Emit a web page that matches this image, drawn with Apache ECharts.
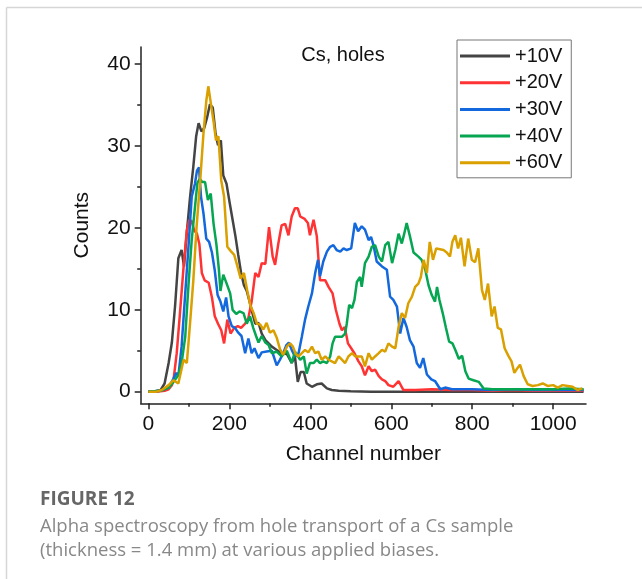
<!DOCTYPE html>
<html>
<head>
<meta charset="utf-8">
<script src="https://cdn.jsdelivr.net/npm/echarts@6/dist/echarts.min.js"></script>
<style>
html,body{margin:0;padding:0;background:#fff;}
#c{width:642px;height:579px;}
</style>
</head>
<body>
<div id="c"></div>
<script>
// ---- data ----
const seriesNames = ['+10V', '+20V', '+30V', '+40V', '+60V'];
const xTicks = [0, 200, 400, 600, 800, 1000];
const xMinorTicks = [100, 300, 500, 700, 900];
const yTicks = [0, 10, 20, 30, 40];
const yMinorTicks = [5, 15, 25, 35];

const ch10 = [0,10,20,30,40,50,58,66,74,82,88,95,103,111,118,124,131,138,145,152,159,166,172,179,185,193,200,208,215,222,229,236,243,250,257,264,272,280,289,297,305,317,329,342,354,362,369,376,384,391,404,416,428,441,453,470,500,550,600,700,800,900,1000,1075];
const v10  = [0,0,0.1,0.2,1.0,3.5,6,10.5,16.3,17.3,15.3,19.5,23.8,27.5,31.2,32.8,31.8,32.2,33.5,35.1,34.7,31.5,30.1,30.7,26.4,25.4,23.3,21.0,19.0,16.7,14.5,13.0,12.3,11.0,9.6,8.3,8.4,7.1,6.3,5.9,5.5,5.1,4.7,4.6,3.5,4.3,1.2,2.4,2.4,1.0,0.6,0.9,1.0,0.4,0.2,0.1,0.05,0,0,0,0,0,0,0];

const ch20 = [0,20,40,50,58,62,70,78,87,95,101,107,113,120,126,132,139,149,157,164,172,180,187,195,203,212,221,229,239,247,255,264,272,280,289,298,307,313,321,329,338,346,354,362,369,375,386,394,399,408,416,424,437,445,455,463,472,478,485,493,501,510,519,527,535,544,552,560,569,577,585,593,605,618,630,660,700,750,800,850,900,950,1000,1075];
const v20  = [0,0,0.1,0.3,0.8,1.4,4.7,9.6,15.3,19.7,21.0,20.8,19.7,19.3,18.0,14.5,13.6,13.3,11.5,9.2,8.3,7.5,5.9,8.8,7.1,7.8,8.0,7.8,8.3,9.0,11.0,14.5,14.0,15.7,15.6,20.1,16.5,15.5,18.1,20.3,20.5,19.1,21.4,22.4,22.4,21.4,21.1,20.6,19.1,21.0,19.0,13.6,13.6,12.8,12.0,10.0,8.3,7.5,7.9,5.9,5.3,4.6,3.7,3.1,2.0,3.1,2.5,2.7,1.9,1.5,1.3,0.8,0.6,1.3,0.2,0.2,0.3,0.2,0.2,0.1,0.2,0.1,0.1,0.1];

const ch30 = [0,30,50,62,69,74,82,91,99,107,115,120,125,130,136,143,150,157,164,171,178,185,192,198,206,214,222,230,239,247,255,262,272,280,292,305,317,325,333,341,347,354,362,371,379,387,395,404,412,419,424,432,441,449,457,465,474,482,490,501,510,518,527,535,544,550,556,564,577,589,597,605,614,622,630,638,646,655,663,671,679,688,699,708,721,733,750,800,850,900,950,1000,1075];
const v30  = [0,0.1,0.5,1.6,2.3,1.9,5.5,12.0,17.7,23.8,25.4,27.0,27.4,23.8,21.8,18.7,18.3,17.0,14.8,11.8,11.0,9.8,11.5,9.2,8.0,7.8,7.2,6.8,4.7,6.5,4.7,5.3,4.1,4.8,4.9,5.0,3.2,3.9,4.7,5.7,6.0,5.1,4.3,4.7,6.7,8.8,10.4,12.0,14.5,16.1,14.1,15.9,17.1,17.7,17.9,17.3,17.1,17.5,17.3,17.5,20.6,19.6,20.2,19.8,18.5,18.9,17.9,15.9,15.3,14.9,11.6,11.2,10.4,7.1,9.0,7.9,6.3,5.5,3.5,2.9,4.1,2.1,1.5,1.3,0.3,0.5,0.3,0.3,0.2,0.3,0.2,0.2,0.2];

const ch40 = [0,30,50,62,74,82,91,99,107,115,121,127,133,140,147,154,161,168,174,178,185,194,202,208,217,225,235,243,251,259,266,272,280,289,297,305,317,329,342,354,362,375,384,391,399,408,416,424,432,441,449,455,461,470,478,486,490,496,503,509,515,523,527,535,544,552,560,569,577,585,593,602,610,618,626,632,638,646,655,667,675,684,692,700,708,713,719,727,735,743,751,759,767,775,783,791,803,816,828,850,900,950,1000,1040,1075];
const v40  = [0,0.1,0.5,1.2,2.0,3.5,6.7,13.0,18.5,22.5,25.5,26.0,25.6,25.6,23.4,24.2,20.5,18.0,15.0,12.3,14.3,13.1,12.0,10.0,9.5,9.8,9.6,8.3,9.2,7.8,6.8,6.0,6.8,6.0,5.7,4.7,4.9,4.3,5.0,3.5,4.9,3.9,4.3,2.2,3.5,3.5,3.9,3.5,3.7,3.5,4.3,5.9,6.7,6.7,6.7,7.1,8.3,10.6,10.2,11.2,13.4,14.0,12.8,15.7,16.5,17.7,17.9,16.5,15.9,17.9,18.3,15.7,17.3,19.3,18.1,19.3,20.6,19.0,17.0,16.5,16.1,14.9,13.0,11.8,11.0,12.8,11.2,9.6,7.8,6.1,5.9,5.0,4.0,4.4,2.5,1.6,1.4,1.2,0.4,0.3,0.3,0.3,0.3,0.4,0.3];

const ch60 = [0,20,33,50,62,74,87,95,103,111,119,128,136,143,148,154,161,167,173,180,187,195,203,212,220,228,236,244,252,260,268,276,284,292,300,309,317,325,333,342,350,357,364,371,379,387,395,404,412,420,428,437,445,453,461,470,478,486,494,503,511,519,527,535,544,552,560,569,577,585,593,602,610,618,626,634,642,651,659,667,673,680,688,695,703,711,720,729,737,745,751,758,765,772,781,790,799,807,815,824,831,839,848,855,863,871,880,889,897,904,912,918,927,937,949,962,974,986,1000,1011,1023,1036,1048,1060,1072];
const v60  = [0,0,0.2,0.8,1.4,1.0,3.9,3.5,8.4,13.6,20.1,25.8,31.5,35.5,37.3,35.3,33.0,30.7,31.2,25.8,23.8,17.7,17.2,16.7,15.3,13.8,14.5,12.4,10.5,9.6,8.3,8.2,7.6,8.4,7.2,7.5,6.6,5.2,4.5,5.5,5.9,5.5,4.6,4.3,4.7,5.1,4.8,5.5,4.7,4.9,3.9,4.3,3.9,3.7,3.5,4.3,3.9,3.5,4.3,4.7,4.3,4.3,4.3,3.1,4.7,3.9,4.3,4.7,5.1,4.9,5.9,5.5,5.3,7.9,9.6,9.0,10.8,11.6,12.8,13.2,14.0,16.1,14.5,18.3,16.1,17.5,17.4,17.3,17.0,16.5,18.3,19.1,17.5,18.8,15.3,18.7,16.1,15.8,17.5,12.4,11.2,13.2,9.2,10.4,7.8,7.6,5.3,4.4,3.7,2.3,2.9,3.3,1.9,0.9,0.7,0.8,1.0,0.7,0.8,0.5,0.8,0.7,0.6,0.2,0.4];

const channels = [ch10, ch20, ch30, ch40, ch60];
const values = [v10, v20, v30, v40, v60];
const colors = ['#444444', '#ff3333', '#1268dc', '#05a552', '#d9a000'];

const FONT = '"Liberation Sans", Arial, sans-serif';
const CAPFONT = '"Open Sans", "Noto Sans", sans-serif';
const chart = echarts.init(document.getElementById('c'), null, {renderer: 'canvas'});

const series = seriesNames.map((name, i) => ({
  name: name,
  type: 'line',
  data: channels[i].map((c, k) => [c, values[i][k]]),
  showSymbol: false,
  symbol: 'none',
  lineStyle: {width: 2.5, color: colors[i]},
  itemStyle: {color: colors[i]},
  z: 2 + i
}));

const plain = v => String(v);
const axisColor = '#222';
const option = {
  animation: false,
  backgroundColor: '#ffffff',
  grid: {left: 140.7, top: 47, right: 56, bottom: 175.7, containLabel: false},
  xAxis: [
    {
      type: 'value', min: -19, max: 1081, position: 'bottom',
      axisLine: {show: true, onZero: false, lineStyle: {color: axisColor, width: 1.5}},
      axisTick: {show: true, inside: false, length: 6, customValues: xTicks, lineStyle: {color: axisColor, width: 1.5}},
      axisLabel: {show: true, customValues: xTicks, formatter: plain, fontSize: 21, color: '#111', fontFamily: FONT, margin: 10},
      splitLine: {show: false},
      name: 'Channel number', nameLocation: 'middle', nameGap: 40,
      nameTextStyle: {fontSize: 21, color: '#111', fontFamily: FONT}
    },
    {
      type: 'value', min: -19, max: 1081, position: 'bottom', offset: 0,
      axisLine: {show: false, onZero: false},
      axisTick: {show: true, inside: false, length: 3.5, customValues: xMinorTicks, lineStyle: {color: axisColor, width: 1.5}},
      axisLabel: {show: false},
      splitLine: {show: false}
    }
  ],
  yAxis: [
    {
      type: 'value', min: -1.42, max: 42.1, position: 'left',
      axisLine: {show: true, onZero: false, lineStyle: {color: axisColor, width: 1.5}},
      axisTick: {show: true, inside: false, length: 6, customValues: yTicks, lineStyle: {color: axisColor, width: 1.5}},
      axisLabel: {show: true, customValues: yTicks, formatter: plain, fontSize: 21, color: '#111', fontFamily: FONT, margin: 10},
      splitLine: {show: false},
      name: 'Counts', nameLocation: 'middle', nameGap: 48, nameRotate: 90,
      nameTextStyle: {fontSize: 21, color: '#111', fontFamily: FONT}
    },
    {
      type: 'value', min: -1.42, max: 42.1, position: 'left', offset: 0,
      axisLine: {show: false, onZero: false},
      axisTick: {show: true, inside: false, length: 3.5, customValues: yMinorTicks, lineStyle: {color: axisColor, width: 1.5}},
      axisLabel: {show: false},
      splitLine: {show: false}
    }
  ],
  legend: {
    data: seriesNames,
    orient: 'vertical',
    left: 457, top: 40,
    padding: [6, 9, 5, 3],
    itemGap: 6.7,
    itemWidth: 50, itemHeight: 3,
    icon: 'rect',
    borderColor: '#777', borderWidth: 1,
    backgroundColor: '#fff',
    textStyle: {fontSize: 20, color: '#111', fontFamily: FONT, lineHeight: 20}
  },
  graphic: [
    {type: 'line', silent: true, z: -10, shape: {x1: 6.5, y1: 7.5, x2: 700, y2: 7.5}, style: {stroke: '#d6d6d6', lineWidth: 1.5}},
    {type: 'line', silent: true, z: -10, shape: {x1: 6.5, y1: 7.5, x2: 6.5, y2: 700}, style: {stroke: '#d6d6d6', lineWidth: 1.5}},
    {type: 'text', x: 343, y: 55, style: {text: 'Cs, holes', fontSize: 20, fontFamily: FONT, fill: '#111', textAlign: 'center', textVerticalAlign: 'middle'}},
    {type: 'text', x: 40, y: 500, style: {text: 'FIGURE 12', fontSize: 19, fontWeight: 'bold', fontFamily: CAPFONT, fill: '#666', textVerticalAlign: 'middle'}},
    {type: 'text', x: 40, y: 527, style: {text: 'Alpha spectroscopy from hole transport of a Cs sample', fontSize: 18.5, fontFamily: CAPFONT, fill: '#888', textVerticalAlign: 'middle'}},
    {type: 'text', x: 40, y: 551, style: {text: '(thickness = 1.4 mm) at various applied biases.', fontSize: 18.5, fontFamily: CAPFONT, fill: '#888', textVerticalAlign: 'middle'}}
  ],
  series: series
};
chart.setOption(option);
</script>
</body>
</html>
